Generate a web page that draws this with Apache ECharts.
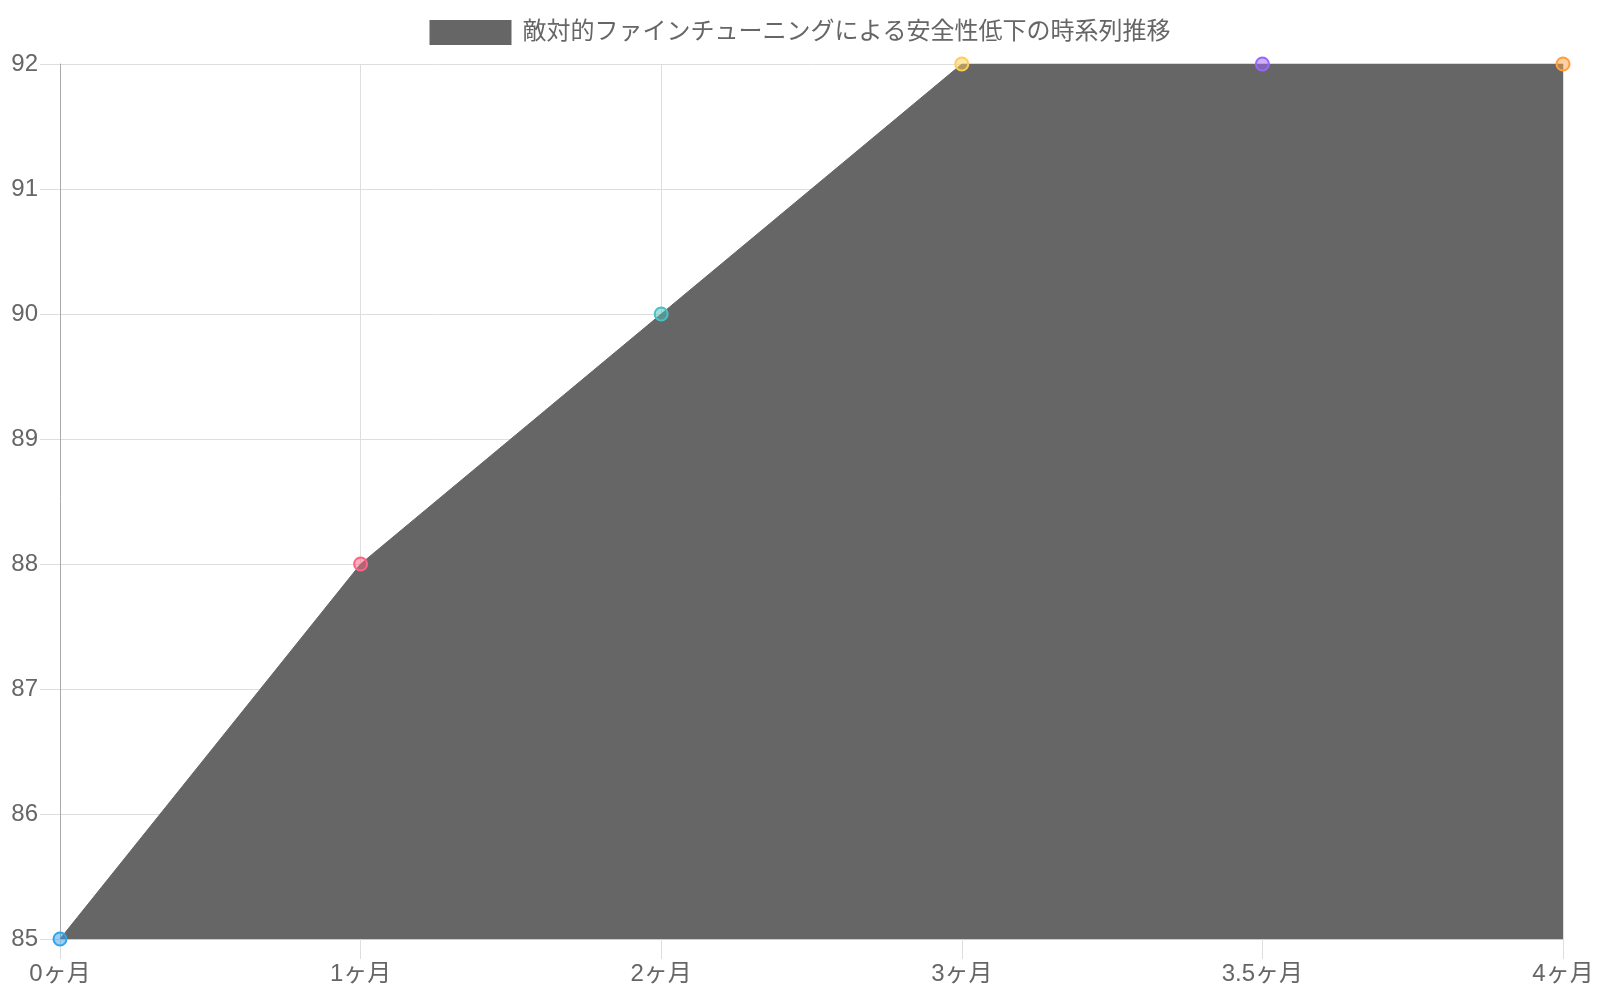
<!DOCTYPE html>
<html>
<head>
<meta charset="utf-8">
<script src="https://cdn.jsdelivr.net/npm/echarts@6/dist/echarts.min.js"></script>
<style>
html,body{margin:0;padding:0;background:#fff;}
#chart{width:1600px;height:1000px;}
</style>
</head>
<body>
<div id="chart"></div>
<script>
var months = ['0ヶ月', '1ヶ月', '2ヶ月', '3ヶ月', '3.5ヶ月', '4ヶ月'];
var safety = [85, 88, 90, 92, 92, 92];
var pointColors = ['54,162,235', '255,99,132', '75,192,192', '255,205,86', '153,102,255', '255,159,64'];
var seriesName = '敵対的ファインチューニングによる安全性低下の時系列推移';
var yTicks = {min: 85, max: 92, step: 1};

var font = '"Liberation Sans", Arial, "Noto Sans CJK JP", sans-serif';
var chart = echarts.init(document.getElementById('chart'));

// 各点は半透明の塗り＋同色の枠
var points = [];
for (var i = 0; i < safety.length; i++) {
    points.push({
        value: safety[i],
        itemStyle: {
            color: 'rgba(' + pointColors[i] + ',0.5)',
            borderColor: 'rgb(' + pointColors[i] + ')',
            borderWidth: 2
        }
    });
}

var option = {
    animation: false,
    textStyle: {fontFamily: font},
    legend: {
        top: 15,
        left: 'center',
        icon: 'rect',
        itemWidth: 82,
        itemHeight: 25,
        textStyle: {color: '#666', fontSize: 24, fontFamily: font, padding: [0, 0, 0, 6]},
        data: [seriesName]
    },
    grid: {left: 60, right: 37, top: 64, bottom: 61, containLabel: false},
    xAxis: {
        type: 'category',
        boundaryGap: false,
        data: months,
        axisLine: {show: true, lineStyle: {color: '#cccccc'}},
        axisTick: {show: true, length: 20, alignWithLabel: true, lineStyle: {color: '#dedede'}},
        splitLine: {show: true, lineStyle: {color: '#dedede'}},
        axisLabel: {color: '#666', fontSize: 24, margin: 23, fontFamily: font}
    },
    yAxis: {
        type: 'value',
        min: yTicks.min,
        max: yTicks.max,
        interval: yTicks.step,
        axisLine: {show: true, lineStyle: {color: '#aaaaaa'}},
        axisTick: {show: true, length: 20, lineStyle: {color: '#dedede'}},
        splitLine: {show: true, lineStyle: {color: '#dedede'}},
        axisLabel: {color: '#666', fontSize: 24, margin: 22, fontFamily: font}
    },
    series: [{
        name: seriesName,
        type: 'line',
        data: points,
        symbol: 'circle',
        symbolSize: 13,
        showAllSymbol: true,
        itemStyle: {color: '#666666'},
        lineStyle: {color: '#666666', width: 1},
        areaStyle: {color: '#666666', opacity: 1}
    }]
};

chart.setOption(option);
</script>
</body>
</html>
